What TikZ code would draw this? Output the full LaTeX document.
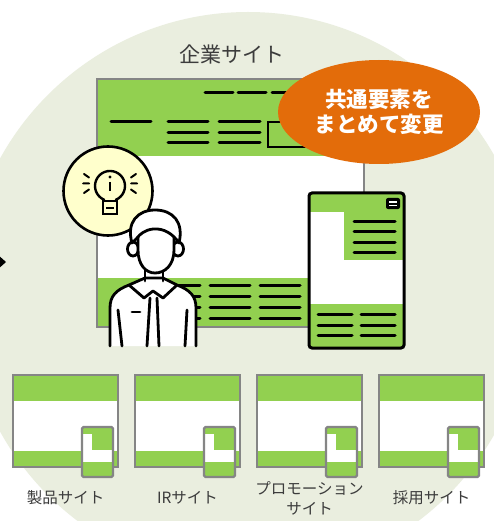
\documentclass[tikz,border=0pt]{standalone}
\usepackage{fontspec}
\setmainfont{Noto Sans CJK JP}
\usetikzlibrary{shapes.geometric}

\definecolor{leaf}{HTML}{92D050}
\definecolor{haze}{HTML}{EAEEDF}
\definecolor{rim}{HTML}{858585}
\definecolor{pumpkin}{HTML}{E36C0A}
\definecolor{bulb}{HTML}{FFFFCC}
\definecolor{ink}{HTML}{3C3C3C}

\begin{document}
\begin{tikzpicture}[x=1pt, y=-1pt,
    bar/.style={line width=3pt, line cap=round},
    rimline/.style={draw=rim, line width=2.4pt},
    outline/.style={line width=2.8pt, line join=round, line cap=round},
    caption/.style={text=ink, inner sep=0pt, align=center, font=\fontsize{15.5}{20}\selectfont}]

    \useasboundingbox (0,0) rectangle (494,521);
    \fill[white] (0,0) rectangle (494,521);
    \begin{scope}
        \clip (0,0) rectangle (494,521);
        \fill[haze] (248,295) circle (283);
        \fill (-12,246) -- (6,262) -- (-12,278) -- cycle;
    \end{scope}

    % corporate site, desktop layout
    \node[caption, font=\fontsize{21}{25}\selectfont] (corp) at (232,54) {企業サイト};
    \fill[white] (97,79) rectangle (364,327);
    \fill[leaf] (97,79) rectangle (364,156);
    \fill[leaf] (97,278) rectangle (364,327);
    \draw[rimline] (97,79) rectangle (364,327);

    \foreach \x in {205,238,272} \draw[bar] (\x,93) -- ++(28,0);
    \draw[bar] (111,122) -- (151,122);
    \foreach \y in {122,132.5,143} {
        \draw[bar] (168,\y) -- (208,\y);
        \draw[bar] (219,\y) -- (260,\y);
    }
    \draw[line width=2.6pt] (268,122) rectangle (305,147);
    \foreach \y in {285,296,307,318}
        \foreach \x in {160,210,260} \draw[bar] (\x,\y) -- ++(40,0);

    \node[ellipse, fill=pumpkin, minimum width=202pt, minimum height=104pt, inner sep=0pt,
        text=white, align=center, font=\bfseries\fontsize{21.5}{25}\selectfont]
        (note) at (379,112) {共通要素を\\まとめて変更};

    % corporate site, mobile layout
    \begin{scope}
        \clip[rounded corners=3pt] (309,193) rectangle (404,348);
        \fill[white] (309,193) rectangle (404,348);
        \fill[leaf] (309,193) rectangle (404,212);
        \fill[leaf] (344,212) rectangle (404,260);
        \fill[leaf] (309,304) rectangle (404,348);
    \end{scope}
    \draw[line width=3pt, rounded corners=3pt] (309,193) rectangle (404,348);
    \fill[rounded corners=2pt] (386,198) rectangle (400,209);
    \draw[white, line width=1.3pt] (389,202) -- (397,202) (389,205.5) -- (397,205.5);
    \foreach \y in {221,231.5,242,252.5} \draw[bar] (354,\y) -- (395,\y);
    \foreach \y in {314.5,325,335.5} {
        \draw[bar] (318,\y) -- (352,\y);
        \draw[bar] (361,\y) -- (395,\y);
    }

    % idea bulb
    \draw[line width=2.6pt, fill=bulb] (108,191) circle (44.5);
    \draw[outline, line width=2.4pt] (104,201) -- (104,199.7)
        arc[start angle=113.6, end angle=426.4, radius=15] -- (116,201);
    \draw[line width=2.4pt] (103,201) rectangle (117,214);
    \draw[line width=2pt] (106,207.5) -- (114,207.5);
    \fill (110,177) circle (1.7);
    \draw[line width=2.2pt] (110,182) -- (110,191);
    \draw[bar, line width=2pt] (84,174) -- (89,177.5) (83,183.5) -- (89,183.5) (84,193) -- (89,189.5);
    \draw[bar, line width=2pt] (136,174) -- (131,177.5) (137,183.5) -- (131,183.5) (136,193) -- (131,189.5);

    % staff member
    \draw[outline, fill=white] (110,346) -- (110,308) .. controls (110,296) and (116,290) .. (129,285)
        -- (145,278) -- (163,278) -- (177,285) .. controls (190,290) and (196,296) .. (196,308) -- (196,346);
    \draw[outline] (129,285) -- (144,298) -- (153,291) -- (163,298) -- (177,285);
    \draw[outline] (150,298) -- (147,346) (157,298) -- (159,346);
    \draw[outline] (118,310) -- (122,346) (187,310) -- (185,346);
    \draw[outline] (132,312) -- (140,312);
    \draw[outline, fill=white] (145,270) -- (145,281) (163,270) -- (163,281);
    \draw[outline, fill=white] (133,249) ellipse (5.5 and 7);
    \draw[outline, fill=white] (178,249) ellipse (5.5 and 7);
    \draw[outline, fill=white] (138,232) -- (138,250) .. controls (138,265) and (146,273) .. (155,273)
        .. controls (165,273) and (174,265) .. (174,250) -- (174,232);
    \draw[outline, fill=white] (132,243) .. controls (126,222) and (138,210) .. (155,210)
        .. controls (173,210) and (184,222) .. (179,243)
        .. controls (173,234) and (164,228) .. (153,229) .. controls (145,230) and (140,234) .. (137,238) -- cycle;

    % the four other sites
    \foreach \bx/\site [count=\i] in {13/製品サイト, 135/IRサイト, 257/{プロモーション\\サイト}, 379/採用サイト} {
        \fill[white] (\bx,375) rectangle ++(105,92);
        \fill[leaf] (\bx,375) rectangle ++(105,26);
        \fill[leaf] (\bx,451) rectangle ++(105,16);
        \draw[rimline] (\bx,375) rectangle ++(105,92);
        \fill[leaf] ({\bx+69},427) rectangle ++(31,50);
        \fill[white] ({\bx+69},434) rectangle ++(10,28);
        \fill[white] ({\bx+69},450) rectangle ++(31,12);
        \draw[rimline, rounded corners=1.5pt] ({\bx+69},427) rectangle ++(31,50);
        \node[caption] (site\i) at ({\bx+52.5},498) {\site};
    }
\end{tikzpicture}
\end{document}
